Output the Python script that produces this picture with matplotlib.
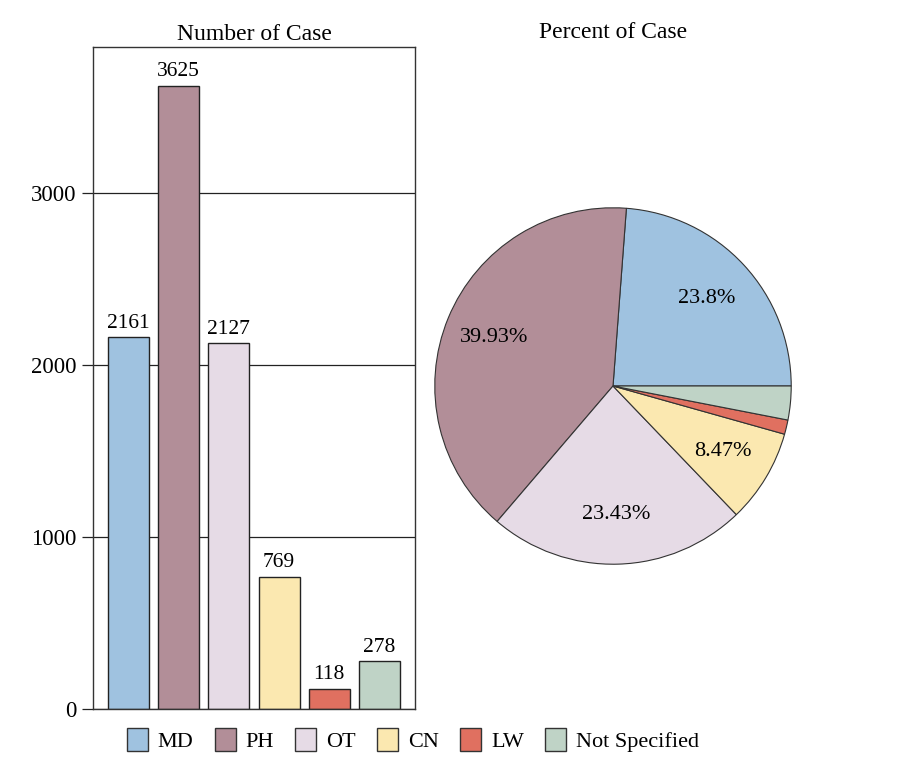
import numpy as np
import matplotlib.pyplot as plt
import matplotlib.patches as mpatches

plt.rcParams['font.family'] = ['Liberation Serif', 'DejaVu Serif']

# data
categories = ['MD', 'PH', 'OT', 'CN', 'LW', 'Not Specified']
counts = [2161, 3625, 2127, 769, 118, 278]
percents = [23.8, 39.93, 23.43, 8.47, 1.3, 3.06]
colors = ['#9fc2e0', '#b28e98', '#e6dbe6', '#fbe8b0', '#e07060', '#bfd3c6']

fig = plt.figure(figsize=(8.97, 7.61), dpi=100)

# -------------- BAR CHART --------------
ax1 = fig.add_axes([93 / 897, 1 - 709 / 761, (415 - 93) / 897, (709 - 47) / 761])
x = np.arange(len(categories))
ax1.set_axisbelow(True)
ax1.yaxis.grid(True, color='#222222', linewidth=0.9)
bars = ax1.bar(x, counts, width=0.82, color=colors, edgecolor='#222222', linewidth=1)
for xi, c in zip(x, counts):
  ax1.text(xi, c + 27, str(c), ha='center', va='bottom', fontsize=15.5)
ax1.set_xlim(-0.71, len(categories) - 1 + 0.71)
ax1.set_ylim(0, 3850)
ax1.set_yticks([0, 1000, 2000, 3000])
ax1.set_xticks([])
ax1.tick_params(axis='y', labelsize=16.5, length=8, width=0.9, color='#222222', pad=4)
for s in ax1.spines.values():
  s.set_color('#333333')
  s.set_linewidth(1)
ax1.set_title('Number of Case', fontsize=17, pad=5)

# -------------- PIE CHART --------------
r = 178
cx, cy = 613, 386
ax2 = fig.add_axes([(cx - r - 2) / 897, 1 - (cy + r + 2) / 761, (2 * r + 4) / 897, (2 * r + 4) / 761])
labels_txt = [f'{p:g}%' if p > 5 else '' for p in percents]
wedges, texts = ax2.pie(percents, colors=colors, startangle=0, counterclock=True,
                        wedgeprops=dict(edgecolor='#333333', linewidth=0.8),
                        labels=labels_txt, labeldistance=0.72,
                        textprops=dict(fontsize=16, ha='center', va='center'))
ax2.set_xlim(-1.01, 1.01)
ax2.set_ylim(-1.01, 1.01)
ax2.set_aspect('equal')
fig.text(cx / 897, 1 - 32 / 761, 'Percent of Case', ha='center', va='center', fontsize=17)

# -------------- LEGEND --------------
handles = [mpatches.Patch(facecolor=c, edgecolor='#333333', label=l) for c, l in zip(colors, categories)]
fig.legend(handles=handles, loc='center', bbox_to_anchor=(413 / 897, 1 - 740 / 761), ncol=6,
           frameon=False, fontsize=16, handlelength=0.95, handleheight=1.25,
           handletextpad=0.45, columnspacing=0.95)

fig.savefig('out.png', dpi=100)
